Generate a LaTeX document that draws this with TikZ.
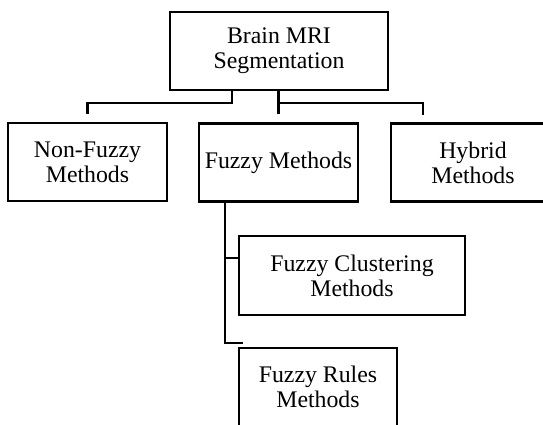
\documentclass[tikz,border=0pt]{standalone}
\usepackage{fontspec}
\setmainfont{Liberation Serif}
\begin{document}
\begin{tikzpicture}[
  x=1pt, y=-1pt,
  line width=2.5pt,
  block/.style={draw, line width=2.6pt, align=center, inner sep=0pt,
    minimum height=78pt, font=\fontsize{23.8}{25}\selectfont}
]
\useasboundingbox (0,0) rectangle (543,425);

\node[block, minimum width=218pt] (seg) at (279,51) {Brain MRI\\Segmentation};

\node[block, minimum width=159pt] (nonfuzzy) at (87.5,162) {Non-Fuzzy\\Methods};
\node[block, minimum width=159pt] (fuzzy) at (278.5,162.5) {Fuzzy Methods};
\node[block, minimum width=164pt] (hybrid) at (473,162.5) {Hybrid\\Methods};

\node[block, minimum width=226pt, minimum height=79pt] (clus) at (352,275.5) {Fuzzy Clustering\\Methods};
\node[block, minimum width=158pt] (rules) at (318,387) {Fuzzy Rules\\Methods};

% open ends of the stubs
\coordinate (nfend) at ([yshift=8pt]nonfuzzy.north);
\coordinate (fzend) at ([yshift=8pt]fuzzy.north);
\coordinate (hyend) at (423,115);
\coordinate (ruend) at (243,343);

\draw (seg.south -| 232,0) |- (nfend |- 0,103) -- (nfend);
\draw (seg.south -| fzend) -- (fzend);
\draw (fzend |- 0,103) -| (hyend);

\draw (fuzzy.south -| 225,0) |- (ruend);
\draw (clus.west |- 0,258) -- ++(-14,0);

\end{tikzpicture}
\end{document}
